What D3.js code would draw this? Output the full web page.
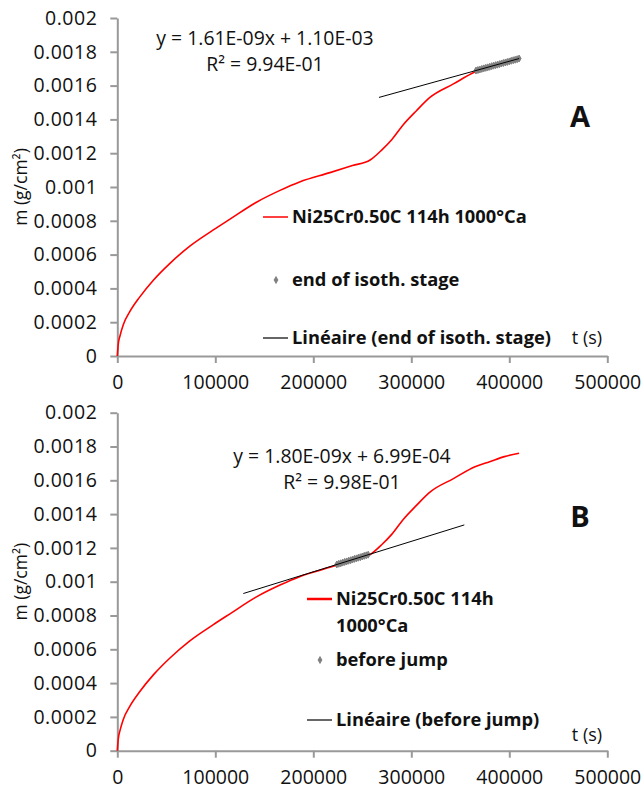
<!DOCTYPE html>
<html>
<head>
<meta charset="utf-8">
<script src="https://cdn.jsdelivr.net/npm/d3@7"></script>
<style>
  body { margin: 0; background: #fff; }
  text { font-family: "Open Sans", sans-serif; fill: #111; }
</style>
</head>
<body>
<div id="chart-container"></div>
<script>
// mass gain curve (same sample in both panels)
const tSec = [0, 1000, 2800, 6100, 13000, 23000, 37000, 54000, 74000, 98000, 115000, 142000, 166000, 186000,
  217000, 240000, 258000, 270000, 280000, 292000, 305000, 319000, 343000, 365000, 380000, 395000, 410000];
const mass = [0, 0.00007, 0.00012, 0.000185, 0.000265, 0.00035, 0.00045, 0.00055, 0.00065, 0.000746, 0.00081,
  0.00091, 0.00098, 0.00103, 0.001085, 0.001127, 0.00116, 0.00122, 0.00128, 0.00137, 0.00145, 0.00153,
  0.00161, 0.00168, 0.00171, 0.00174, 0.00176];

// panel A: points of the end of the isothermal stage
const endT = [366000, 368000, 370000, 372000, 374000, 376000, 378000, 380000, 382000, 384000, 386000, 388000,
  390000, 392000, 394000, 396000, 398000, 400000, 402000, 404000, 406000, 408000, 410000];
const endM = [0.001689, 0.001692, 0.001695, 0.001699, 0.001702, 0.001705, 0.001708, 0.001711, 0.001715, 0.001718,
  0.001721, 0.001724, 0.001727, 0.001731, 0.001734, 0.001737, 0.00174, 0.001743, 0.001747, 0.00175, 0.001753,
  0.001756, 0.00176];
const trendA = [[267000, 0.00153], [410000, 0.00176]];

// panel B: points before the jump
const jumpT = [224000, 226000, 228000, 230000, 232000, 234000, 236000, 238000, 240000, 242000, 244000, 246000,
  248000, 250000, 252000, 254000, 256000];
const jumpM = [0.001102, 0.001106, 0.001109, 0.001113, 0.001117, 0.00112, 0.001124, 0.001127, 0.001131, 0.001135,
  0.001138, 0.001142, 0.001145, 0.001149, 0.001153, 0.001156, 0.00116];
const trendB = [[128600, 0.00093], [354100, 0.001336]];

const xTicks = [0, 100000, 200000, 300000, 400000, 500000];
const yTicks = [0, 0.0002, 0.0004, 0.0006, 0.0008, 0.001, 0.0012, 0.0014, 0.0016, 0.0018, 0.002];

const width = 642, height = 790;
const svg = d3.select("#chart-container")
  .append("svg")
  .attr("width", width)
  .attr("height", height);

const curve = tSec.map((t, i) => [t, mass[i]]);

function drawPanel(p) {
  const x = d3.scaleLinear().domain([0, 500000]).range([117.3, 607.3]);
  const y = d3.scaleLinear().domain([0, 0.002]).range([p.bottom, p.bottom - 338]);
  const g = svg.append("g");

  const xAxis = g.append("g")
    .attr("transform", `translate(0,${p.bottom})`)
    .call(d3.axisBottom(x).tickValues(xTicks).tickFormat(d3.format("d")).tickSize(7).tickSizeOuter(0).tickPadding(12));
  const yAxis = g.append("g")
    .attr("transform", "translate(117.3,0)")
    .call(d3.axisLeft(y).tickValues(yTicks).tickFormat(d => String(+d.toFixed(4))).tickSize(7).tickSizeOuter(0).tickPadding(13));
  [xAxis, yAxis].forEach(a => {
    a.selectAll("path, line").attr("stroke", "#999").attr("stroke-width", 2);
    a.selectAll("text").style("font-size", "19.5px").attr("fill", "#111");
  });
  yAxis.selectAll("text").attr("letter-spacing", "0.5px");

  g.append("text")
    .attr("transform", `translate(21,${p.bottom - 169}) rotate(-90)`)
    .attr("text-anchor", "middle")
    .attr("dy", "0.35em")
    .style("font-size", "17.5px")
    .text("m (g/cm²)");

  const line = d3.line().x(d => x(d[0])).y(d => y(d[1]));
  g.append("path")
    .datum(curve)
    .attr("fill", "none")
    .attr("stroke", "#f00")
    .attr("stroke-width", 1.6)
    .attr("d", line.curve(d3.curveMonotoneX));
  line.curve(d3.curveLinear);

  const diamond = d3.symbol().type(d3.symbolDiamond);
  g.append("g")
    .selectAll("path")
    .data(p.ptsT.map((t, i) => [t, p.ptsM[i]]))
    .enter()
    .append("path")
    .attr("transform", d => `translate(${x(d[0])},${y(d[1])})`)
    .attr("d", diamond.size(14)())
    .attr("fill", "#808080")
    .attr("stroke", "#808080")
    .attr("stroke-width", 1);

  g.append("path")
    .datum(p.trend)
    .attr("fill", "none")
    .attr("stroke", "#000")
    .attr("stroke-width", 1)
    .attr("d", line);

  // equation
  p.eq.forEach((s, i) => {
    g.append("text")
      .attr("x", p.eqX).attr("y", p.eqY + i * 26)
      .attr("text-anchor", "middle").attr("dy", "0.35em")
      .style("font-size", "19.4px")
      .text(s);
  });

  g.append("text")
    .attr("x", 580).attr("y", p.letterY)
    .attr("text-anchor", "middle").attr("dy", "0.35em")
    .style("font-size", "29px").style("font-weight", "bold")
    .text(p.letter);

  // legend
  const lg = g.append("g");
  lg.append("line")
    .attr("x1", p.legX).attr("x2", p.legX + 25)
    .attr("y1", p.legY[0]).attr("y2", p.legY[0])
    .attr("stroke", "#f00").attr("stroke-width", p.redW);
  p.legRed.forEach((s, i) => {
    lg.append("text")
      .attr("x", p.legX + 29).attr("y", p.legY[0] + i * 27)
      .attr("dy", "0.35em")
      .style("font-size", "18.3px").style("font-weight", "bold")
      .text(s);
  });
  lg.append("path")
    .attr("transform", `translate(${p.legX + 13},${p.legY[1]})`)
    .attr("d", diamond.size(20)())
    .attr("fill", "#808080");
  lg.append("text")
    .attr("x", p.legX + 29).attr("y", p.legY[1])
    .attr("dy", "0.35em")
    .style("font-size", "18.3px").style("font-weight", "bold")
    .text(p.legPts);
  lg.append("line")
    .attr("x1", p.legX).attr("x2", p.legX + 25)
    .attr("y1", p.legY[2]).attr("y2", p.legY[2])
    .attr("stroke", "#000").attr("stroke-width", 1.2);
  lg.append("text")
    .attr("x", p.legX + 29).attr("y", p.legY[2])
    .attr("dy", "0.35em")
    .style("font-size", "18.3px").style("font-weight", "bold")
    .text("Linéaire (" + p.legPts + ")");

  g.append("text")
    .attr("x", 587).attr("y", p.tY)
    .attr("text-anchor", "middle").attr("dy", "0.35em")
    .style("font-size", "18px")
    .text("t (s)");
}

drawPanel({
  bottom: 356, ptsT: endT, ptsM: endM, trend: trendA,
  eq: ["y = 1.61E-09x + 1.10E-03", "R² = 9.94E-01"], eqX: 265, eqY: 38,
  letter: "A", letterY: 117,
  legX: 263, legY: [217, 280, 338], redW: 1.5,
  legRed: ["Ni25Cr0.50C 114h 1000°Ca"], legPts: "end of isoth. stage",
  tY: 338
});

drawPanel({
  bottom: 750.7, ptsT: jumpT, ptsM: jumpM, trend: trendB,
  eq: ["y = 1.80E-09x + 6.99E-04", "R² = 9.98E-01"], eqX: 342, eqY: 456,
  letter: "B", letterY: 517,
  legX: 307, legY: [599, 660, 720], redW: 2.5,
  legRed: ["Ni25Cr0.50C 114h", "1000°Ca"], legPts: "before jump",
  tY: 735
});
</script>
</body>
</html>
